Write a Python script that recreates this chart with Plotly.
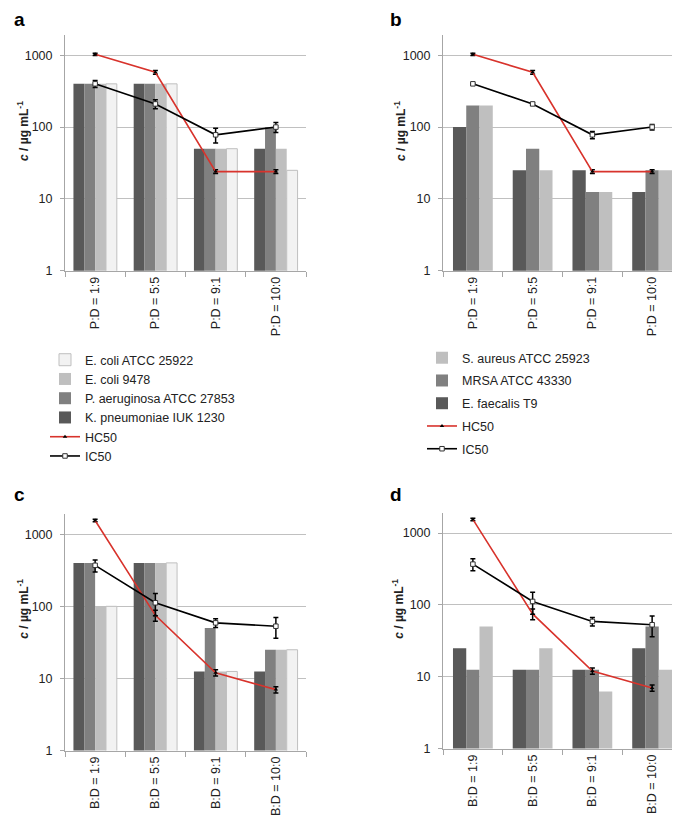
import plotly.graph_objects as go

W, H = 680, 817

# ---------------- data ----------------
cats_P = ["P:D = 1:9", "P:D = 5:5", "P:D = 9:1", "P:D = 10:0"]
cats_B = ["B:D = 1:9", "B:D = 5:5", "B:D = 9:1", "B:D = 10:0"]

# panel a (gram-negative, P:D)
a_kpn = [400, 400, 50, 50]
a_pae = [400, 400, 50, 100]
a_eco9478 = [400, 400, 50, 50]
a_eco25922 = [400, 400, 50, 25]
# panel b (gram-positive, P:D)
b_efa = [100, 25, 25, 12.5]
b_mrsa = [200, 50, 12.5, 25]
b_sau = [200, 25, 12.5, 25]
# panel c (gram-negative, B:D)
c_kpn = [400, 400, 12.5, 12.5]
c_pae = [400, 400, 50, 25]
c_eco9478 = [100, 400, 12.5, 25]
c_eco25922 = [100, 400, 12.5, 25]
# panel d (gram-positive, B:D)
d_efa = [25, 12.5, 12.5, 25]
d_mrsa = [12.5, 12.5, 12.5, 50]
d_sau = [50, 25, 6.25, 12.5]

# HC50 / IC50 lines
hc50_P = [1030, 580, 24, 24]
hc50_P_err = [40, 35, 1.5, 1.5]
ic50_P = [400, 210, 78, 100]
ic50_P_err_a = [45, 30, 18, 16]
ic50_P_err_b = [8, 8, 9, 9]
hc50_B = [1550, 75, 12, 7]
hc50_B_err = [60, 13, 1.2, 0.7]
ic50_B = [370, 112, 59, 53]
ic50_B_err = [70, 38, 8, 17]

# ---------------- style ----------------
FONT = "Liberation Sans, Arial, sans-serif"
C_DARK = "#595959"
C_MED = "#808080"
C_LIGHT = "#bfbfbf"
C_VLIGHT = "#f2f2f2"
C_RED = "#d8332c"
AX = "#a6a6a6"
GRID = "#c0c0c0"


def px(x):
    return x / W


def py(y):
    return 1 - y / H


fig = go.Figure()


def bars(xaxis, yaxis, cats, series, names, colors, lines, width, offsets, legend, showlegend, ranks):
    for vals, name, col, lc, off, rk in zip(series, names, colors, lines, offsets, ranks):
        fig.add_trace(go.Bar(
            x=cats, y=vals, name=name, xaxis=xaxis, yaxis=yaxis,
            marker=dict(color=col, line=dict(color=lc, width=1 if lc else 0)),
            width=width, offset=off, legend=legend, showlegend=showlegend,
            legendrank=rk, legendgroup=name + legend,
        ))


def lines(xaxis, yaxis, cats, hc, hce, ic, ice, legend, showlegend):
    fig.add_trace(go.Scatter(
        x=cats, y=hc, name="HC50", xaxis=xaxis, yaxis=yaxis, mode="lines+markers",
        line=dict(color=C_RED, width=1.6),
        marker=dict(symbol="triangle-up", size=4, color="#000"),
        error_y=dict(type="data", array=hce, color="#000", thickness=1.5, width=2.5),
        legend=legend, showlegend=showlegend, legendrank=900, legendgroup="hc" + legend,
    ))
    fig.add_trace(go.Scatter(
        x=cats, y=ic, name="IC50", xaxis=xaxis, yaxis=yaxis, mode="lines+markers",
        line=dict(color="#000", width=1.6),
        marker=dict(symbol="square", size=4.5, color="#fff", line=dict(color="#333", width=1)),
        error_y=dict(type="data", array=ice, color="#000", thickness=1.5, width=2.5),
        legend=legend, showlegend=showlegend, legendrank=1000, legendgroup="ic" + legend,
    ))


gn_names = ["K. pneumoniae IUK 1230", "P. aeruginosa ATCC 27853", "E. coli 9478", "E. coli ATCC 25922"]
gn_cols = [C_DARK, C_MED, C_LIGHT, C_VLIGHT]
gn_lines = [None, None, None, C_LIGHT]
gn_ranks = [400, 300, 200, 100]
gn_w = 0.18
gn_off = [-0.36, -0.18, 0.0, 0.18]

gp_names = ["E. faecalis T9", "MRSA ATCC 43330", "S. aureus ATCC 25923"]
gp_cols = [C_DARK, C_MED, C_LIGHT]
gp_lines = [None, None, None]
gp_ranks = [300, 200, 100]
gp_w = 0.222
gp_off = [-0.333, -0.111, 0.111]

bars("x", "y", cats_P, [a_kpn, a_pae, a_eco9478, a_eco25922], gn_names, gn_cols, gn_lines, gn_w, gn_off, "legend", True, gn_ranks)
lines("x", "y", cats_P, hc50_P, hc50_P_err, ic50_P, ic50_P_err_a, "legend", True)

bars("x2", "y2", cats_P, [b_efa, b_mrsa, b_sau], gp_names, gp_cols, gp_lines, gp_w, gp_off, "legend2", True, gp_ranks)
lines("x2", "y2", cats_P, hc50_P, hc50_P_err, ic50_P, ic50_P_err_b, "legend2", True)

bars("x3", "y3", cats_B, [c_kpn, c_pae, c_eco9478, c_eco25922], gn_names, gn_cols, gn_lines, gn_w, gn_off, "legend", False, gn_ranks)
lines("x3", "y3", cats_B, hc50_B, hc50_B_err, ic50_B, ic50_B_err, "legend", False)

bars("x4", "y4", cats_B, [d_efa, d_mrsa, d_sau], gp_names, gp_cols, gp_lines, gp_w, gp_off, "legend2", False, gp_ranks)
lines("x4", "y4", cats_B, hc50_B, hc50_B_err, ic50_B, ic50_B_err, "legend2", False)

# ---------------- axes ----------------
panels = {
    "": dict(x0=57, x1=298, y0=27, y1=265),
    "2": dict(x0=435, x1=674, y0=27, y1=265),
    "3": dict(x0=57, x1=298, y0=510, y1=749),
    "4": dict(x0=435, x1=674, y0=509, y1=747),
}
tickfont = dict(family=FONT, size=12.5, color="#222")
for k, p in panels.items():
    fig.layout["xaxis" + k] = dict(
        domain=[px(p["x0"]), px(p["x1"])], anchor="y" + k, type="category",
        showline=True, linecolor=AX, linewidth=1, ticks="outside", tickson="boundaries",
        ticklen=5, tickcolor=AX, tickangle=-90, tickfont=tickfont, showgrid=False,
        range=[-0.5, 3.5], fixedrange=True,
    )
    fig.layout["yaxis" + k] = dict(
        domain=[py(p["y1"]), py(p["y0"])], anchor="x" + k, type="log",
        range=[0, 3.285], tickvals=[1, 10, 100, 1000], ticktext=["1", "10", "100", "1000"],
        showline=True, linecolor=AX, linewidth=1, showgrid=True, gridcolor=GRID, gridwidth=1,
        ticks="outside", ticklen=4, tickcolor=AX, tickfont=tickfont, ticklabelstandoff=5,
        zeroline=False,
    )

fig.update_layout(
    width=W, height=H, margin=dict(l=0, r=0, t=0, b=0),
    paper_bgcolor="#fff", plot_bgcolor="#fff",
    barmode="overlay",
    font=dict(family=FONT, size=12.5, color="#222"),
    legend=dict(x=px(37), y=py(340), xanchor="left", yanchor="top",
                font=dict(family=FONT, size=12.5, color="#222"),
                bgcolor="rgba(0,0,0,0)", traceorder="normal", itemwidth=30),
    legend2=dict(x=px(414), y=py(338), xanchor="left", yanchor="top",
                 font=dict(family=FONT, size=12.5, color="#222"),
                 bgcolor="rgba(0,0,0,0)", traceorder="grouped", tracegroupgap=3.5,
                 itemwidth=30),
)

# panel letters
for txt, x, y in [("a", 4, 12), ("b", 380, 12), ("c", 4, 491), ("d", 380, 491)]:
    fig.add_annotation(text="<b>%s</b>" % txt, x=px(x), y=py(y), xref="paper", yref="paper",
                       xanchor="left", yanchor="middle", showarrow=False,
                       font=dict(family=FONT, size=19, color="#000"))

# y-axis titles
ytitle = "<b><i>c</i> / µg mL<sup>-1</sup></b>"
for x, y in [(15, 124), (392, 124), (15, 606), (390, 606)]:
    fig.add_annotation(text=ytitle, x=px(x), y=py(y), xref="paper", yref="paper",
                       xanchor="center", yanchor="middle", textangle=-90, showarrow=False,
                       font=dict(family=FONT, size=12, color="#222"))

fig.write_html("out.html")
